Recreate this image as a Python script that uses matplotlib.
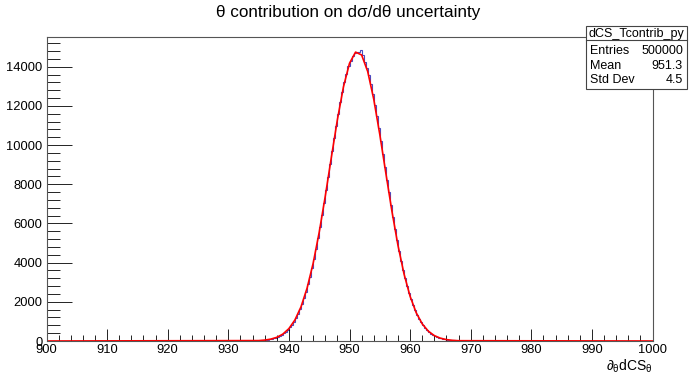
import numpy as np
import matplotlib
matplotlib.use('Agg')
import matplotlib.pyplot as plt
from matplotlib.patches import Rectangle
from matplotlib.lines import Line2D
from matplotlib.ticker import MultipleLocator

plt.rcParams['font.family'] = ['Liberation Sans', 'DejaVu Sans']
plt.rcParams['mathtext.fontset'] = 'custom'
plt.rcParams['mathtext.rm'] = 'Liberation Sans'
plt.rcParams['mathtext.it'] = 'Liberation Sans'

# histogram: 300 bins on [900, 1000], non-empty bins from 935 to 968
x_min, x_max, n_bins = 900, 1000, 300
first_bin = 105
counts = [
    24, 31, 40, 52, 66, 84, 107, 134, 168, 209,
    259, 318, 390, 475, 575, 693, 829, 988, 1171, 1380,
    1616, 1884, 2184, 2516, 2886, 3289, 3730, 4208, 4717, 5260,
    5838, 6440, 7065, 7709, 8365, 9028, 9690, 10345, 10982, 11596,
    12175, 12715, 13205, 13640, 14012, 14315, 14544, 14696, 14770, 14761,
    14850, 14590, 14260, 13943, 13558, 13112, 12611, 12063, 11475, 10856,
    10215, 9559, 8897, 8233, 7579, 6937, 6315, 5720, 5149, 4613,
    4108, 3639, 3206, 2809, 2447, 2121, 1828, 1566, 1336, 1132,
    955, 800, 668, 554, 457, 375, 306, 248, 200, 161,
    128, 102, 80, 63, 49, 38, 30, 23, 17,
]

# gaussian fit drawn as a line
fit_x = [900, 935, 936, 937, 938, 939, 940, 941, 942, 943, 944, 945, 946, 947, 948, 949,
         950, 951, 952, 953, 954, 955, 956, 957, 958, 959, 960, 961, 962, 963,
         964, 965, 966, 967, 968, 1000]
fit_y = [0, 21, 46, 95, 187, 352, 632, 1076, 1745, 2697, 3963, 5546, 7385, 9361, 11292, 12966,
         14172, 14743, 14598, 13758, 12342, 10538, 8564, 6624, 4877, 3418, 2280, 1448, 875, 503,
         275, 144, 71, 34, 15, 0]

stats_name = 'dCS_Tcontrib_py'
stats_rows = [('Entries', '500000'), ('Mean', '951.3'), ('Std Dev', '4.5')]

W, H = 690, 376
fig = plt.figure(figsize=(W / 100, H / 100), dpi=100)
ax = fig.add_axes([46.5 / W, 1 - 341 / H, (652.5 - 46.5) / W, (341 - 36.5) / H])

all_counts = np.zeros(n_bins)
all_counts[first_bin:first_bin + len(counts)] = counts
edges = np.linspace(x_min, x_max, n_bins + 1)
ax.stairs(all_counts, edges, color='#4a4ac0', lw=0.8)
ax.plot(fit_x, fit_y, color='#ff0000', lw=1.2)

ax.set_xlim(x_min, x_max)
ax.set_ylim(0, 15540)
ax.xaxis.set_major_locator(MultipleLocator(10))
ax.xaxis.set_minor_locator(MultipleLocator(2))
ax.yaxis.set_major_locator(MultipleLocator(2000))
ax.yaxis.set_minor_locator(MultipleLocator(400))
ax.tick_params(axis='x', which='major', direction='in', length=9, width=0.6, labelsize=9.3, pad=2.5)
ax.tick_params(axis='x', which='minor', direction='in', length=4.5, width=0.6)
ax.tick_params(axis='y', which='major', direction='in', length=18, width=0.6, labelsize=9.3, pad=3)
ax.tick_params(axis='y', which='minor', direction='in', length=9, width=0.6)
for s in ax.spines.values():
    s.set_linewidth(0.8)
    s.set_color('#555555')

fig.text(348 / W, 1 - 12.5 / H, 'θ contribution on dσ/dθ uncertainty',
         ha='center', va='center', fontsize=12.3)
fig.text(653 / W, 1 - 366 / H, r'$\partial_{\theta}$dCS$_{\theta}$', ha='right', va='center', fontsize=10)

# stats box
bx0, bx1, by0, by1 = 586, 687, 26, 89
fig.add_artist(Rectangle((bx0 / W, 1 - by1 / H), (bx1 - bx0) / W, (by1 - by0) / H,
                         transform=fig.transFigure, facecolor='white', edgecolor='#444444', lw=0.8))
fig.add_artist(Line2D([bx0 / W, bx1 / W], [1 - 40 / H, 1 - 40 / H], transform=fig.transFigure,
                      color='#444444', lw=0.8))
fig.text((bx0 + bx1) / 2 / W, 1 - 33.5 / H, stats_name, ha='center', va='center', fontsize=9)
for i, (k, v) in enumerate(stats_rows):
    yy = 1 - (51.5 + i * 14.2) / H
    fig.text(590 / W, yy, k, ha='left', va='center', fontsize=9)
    fig.text(683 / W, yy, v, ha='right', va='center', fontsize=9)

fig.savefig('out.png', dpi=100)
